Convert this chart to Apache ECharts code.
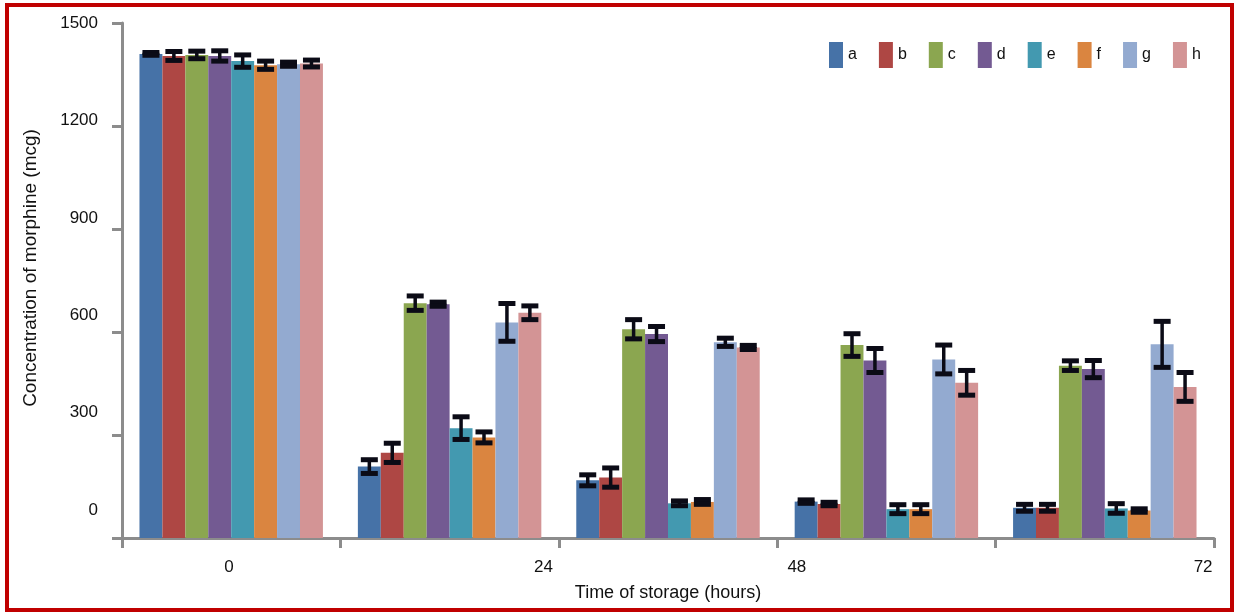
<!DOCTYPE html>
<html>
<head>
<meta charset="utf-8">
<script src="https://cdn.jsdelivr.net/npm/echarts@6/dist/echarts.min.js"></script>
<style>
html,body{margin:0;padding:0;background:#fff;}
#chart{width:1236px;height:615px;}
</style>
</head>
<body>
<div id="chart"></div>
<script>
// ---- data ----
const groups = ['group 1', 'group 2', 'group 3', 'group 4', 'group 5'];
const timeLabels = ['0', '24', '48', '72'];
const yTicks = [0, 300, 600, 900, 1200, 1500];
const seriesNames = ['a', 'b', 'c', 'd', 'e', 'f', 'g', 'h'];

const a = [1410, 208, 168, 106, 88];
const b = [1404, 248, 176, 99, 88];
const c = [1407, 684, 608, 562, 502];
const d = [1404, 681, 594, 517, 492];
const e = [1389, 320, 101, 84, 86];
const f = [1377, 293, 105, 84, 80];
const g = [1380, 628, 570, 520, 564];
const h = [1382, 656, 555, 452, 440];

const aErr = [4, 20, 16, 5, 10];
const bErr = [13, 28, 28, 5, 10];
const cErr = [11, 21, 28, 33, 14];
const dErr = [15, 6, 22, 35, 25];
const eErr = [18, 33, 7, 13, 14];
const fErr = [12, 16, 7, 13, 5];
const gErr = [6, 55, 12, 42, 67];
const hErr = [10, 20, 6, 36, 42];

// ---- chart ----
const values = [a, b, c, d, e, f, g, h];
const errors = [aErr, bErr, cErr, dErr, eErr, fErr, gErr, hErr];
const colors = ['#4672a7', '#ae4744', '#8ba650', '#735a92', '#4399b0', '#da8540', '#93aad0', '#d39495'];
const BAR_GAP_RATIO = 0.16;
const axisGrey = '#8c8c8c';
const font = 'Liberation Sans, Arial, sans-serif';
const xLabelPos = [0.49, 1.93, 3.09, 4.95];

const barSeries = seriesNames.map((name, i) => ({
  name: name,
  type: 'bar',
  xAxisIndex: 0,
  yAxisIndex: 0,
  data: values[i],
  barGap: '0%',
  barCategoryGap: (BAR_GAP_RATIO * 100) + '%',
  itemStyle: { color: colors[i] },
  z: 2
}));

const errSeries = seriesNames.map((name, i) => ({
  name: name + ' error',
  type: 'custom',
  xAxisIndex: 0,
  yAxisIndex: 0,
  z: 5,
  data: values[i].map((v, k) => [k, v, errors[i][k]]),
  renderItem: function (params, api) {
    const k = api.value(0), v = api.value(1), er = api.value(2);
    const center = api.coord([k, v]);
    const band = api.size([1, 0])[0];
    const used = band * (1 - BAR_GAP_RATIO);
    const bw = used / seriesNames.length;
    const x = center[0] - used / 2 + bw * (i + 0.5);
    const yTop = api.coord([k, v + er])[1];
    const yBot = api.coord([k, v - er])[1];
    const cap = 17;
    const st = { stroke: '#0b0b16', lineWidth: 5 };
    return {
      type: 'group',
      children: [
        { type: 'line', shape: { x1: x, y1: yTop, x2: x, y2: yBot }, style: { stroke: '#0b0b16', lineWidth: 3.5 } },
        { type: 'line', shape: { x1: x - cap / 2, y1: yTop, x2: x + cap / 2, y2: yTop }, style: st },
        { type: 'line', shape: { x1: x - cap / 2, y1: yBot, x2: x + cap / 2, y2: yBot }, style: st }
      ]
    };
  }
}));

const option = {
  animation: false,
  backgroundColor: '#fff',
  textStyle: { fontFamily: font },
  grid: { left: 122, right: 22, top: 23, bottom: 77, containLabel: false },
  legend: {
    data: seriesNames,
    left: 824,
    top: 37,
    itemWidth: 14,
    itemHeight: 26,
    itemGap: 22,
    icon: 'rect',
    textStyle: { fontSize: 16, color: '#111', fontFamily: font }
  },
  xAxis: [
    {
      type: 'category',
      data: groups,
      boundaryGap: true,
      axisLine: { lineStyle: { color: axisGrey, width: 3 } },
      axisTick: { show: true, length: 10, lineStyle: { color: axisGrey, width: 3 } },
      axisLabel: { show: false },
      splitLine: { show: false },
      name: 'Time of storage (hours)',
      nameLocation: 'middle',
      nameGap: 46,
      nameTextStyle: { fontSize: 18, color: '#111', fontFamily: font }
    },
    {
      type: 'value',
      min: 0,
      max: groups.length,
      position: 'bottom',
      axisLine: { show: false },
      axisTick: { show: false },
      splitLine: { show: false },
      axisLabel: {
        customValues: xLabelPos,
        margin: 21,
        fontSize: 17,
        color: '#111',
        fontFamily: font,
        formatter: function (v) { return timeLabels[xLabelPos.indexOf(v)]; }
      }
    }
  ],
  yAxis: [
    {
      type: 'value',
      min: 0,
      max: 1500,
      interval: 300,
      axisLine: { show: true, lineStyle: { color: axisGrey, width: 3 } },
      axisTick: { show: true, length: 10, lineStyle: { color: axisGrey, width: 3 } },
      axisLabel: { show: false },
      splitLine: { show: false },
      name: 'Concentration of morphine (mcg)',
      nameLocation: 'middle',
      nameGap: 82,
      nameTextStyle: { fontSize: 19, color: '#111', fontFamily: font, padding: [0, 0, 0, 25] }
    },
    {
      type: 'value',
      min: -86,
      max: 1500,
      position: 'left',
      axisLine: { show: false },
      axisTick: { show: false },
      splitLine: { show: false },
      axisLabel: {
        customValues: yTicks,
        margin: 24,
        fontSize: 17,
        color: '#111',
        fontFamily: font,
        formatter: function (v) { return String(v); }
      }
    }
  ],
  graphic: [
    {
      type: 'rect',
      shape: { x: 7, y: 5, width: 1225, height: 605 },
      style: { fill: 'none', stroke: '#c00000', lineWidth: 4 },
      z: 100,
      silent: true
    }
  ],
  series: barSeries.concat(errSeries)
};

const chart = echarts.init(document.getElementById('chart'), null, { renderer: 'canvas' });
chart.setOption(option);
</script>
</body>
</html>
